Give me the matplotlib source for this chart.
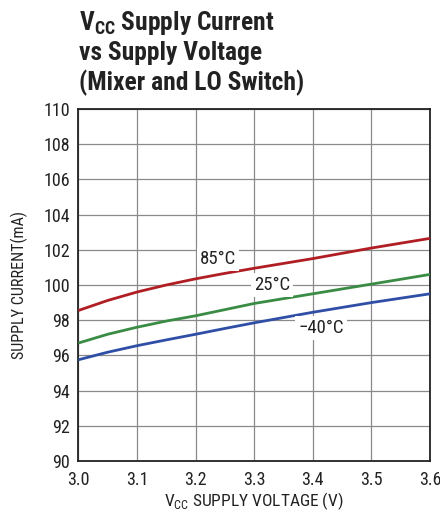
import matplotlib
matplotlib.use("Agg")
import matplotlib.pyplot as plt

FONT = "Roboto Condensed"
plt.rcParams['font.family'] = [FONT, 'DejaVu Sans']
plt.rcParams['mathtext.fontset'] = 'custom'
plt.rcParams['mathtext.rm'] = FONT
plt.rcParams['mathtext.bf'] = FONT + ':bold'

# data
voltage = [3.0, 3.05, 3.1, 3.15, 3.2, 3.25, 3.3, 3.4, 3.5, 3.6]
i_85 = [98.55, 99.12, 99.6, 100.0, 100.35, 100.66, 100.95, 101.5, 102.1, 102.65]
i_25 = [96.7, 97.2, 97.6, 97.95, 98.25, 98.6, 98.95, 99.5, 100.05, 100.6]
i_m40 = [95.75, 96.18, 96.55, 96.88, 97.2, 97.53, 97.85, 98.45, 99.0, 99.5]
labels = ["85°C", "25°C", "−40°C"]
label_pos = [(3.239, 101.46), (3.331, 100.0), (3.414, 97.54)]
xticks = [3.0, 3.1, 3.2, 3.3, 3.4, 3.5, 3.6]
xtick_labels = ["3.0", "3.1", "3.2", "3.3", "3.4", "3.5", "3.6"]
yticks = list(range(90, 111, 2))
colors = ["#b01e23", "#3a8c45", "#2f4fa6"]

W, H = 440, 514
fig = plt.figure(figsize=(W / 100, H / 100), dpi=100)
ax = fig.add_axes([78.3 / W, 1 - 461 / H, (430 - 78.3) / W, (461 - 109) / H])

for ys, c in zip([i_85, i_25, i_m40], colors):
    ax.plot(voltage, ys, color=c, lw=2.0, solid_capstyle='butt',
            solid_joinstyle='round', zorder=3)

for (lx, ly), t in zip(label_pos, labels):
    ax.text(lx, ly, t, fontsize=13.5, ha='center', va='center', zorder=4, color='#222222',
            bbox=dict(boxstyle='square,pad=0.15', fc='white', ec='none'))

ax.set_xlim(3.0, 3.6)
ax.set_ylim(90, 110)
ax.set_xticks(xticks)
ax.set_xticklabels(xtick_labels)
ax.set_yticks(yticks)
ax.grid(True, color='#8a8a8a', lw=0.9, zorder=1)
ax.set_axisbelow(True)
ax.tick_params(axis='both', length=0, labelsize=13, colors='#222222')
ax.tick_params(axis='x', pad=7)
ax.tick_params(axis='y', pad=6)
for s in ax.spines.values():
    s.set_color('#222222')
    s.set_linewidth(1.3)

ax.set_xlabel(r"V$_{\mathrm{CC}}$ SUPPLY VOLTAGE (V)", fontsize=12.5, color='#222222', labelpad=1)
ax.set_ylabel("SUPPLY CURRENT(mA)", fontsize=11.6, color='#222222', labelpad=11)

tkw = dict(fontsize=18.4, fontweight='bold', color='#222222', ha='left', va='baseline')
fig.text(79 / W, 1 - 30 / H, r"V$_{\mathbf{CC}}$ Supply Current", **tkw)
fig.text(79 / W, 1 - 60 / H, "vs Supply Voltage", **tkw)
fig.text(79 / W, 1 - 90 / H, "(Mixer and LO Switch)", **tkw)

fig.savefig("out.png", dpi=100)
